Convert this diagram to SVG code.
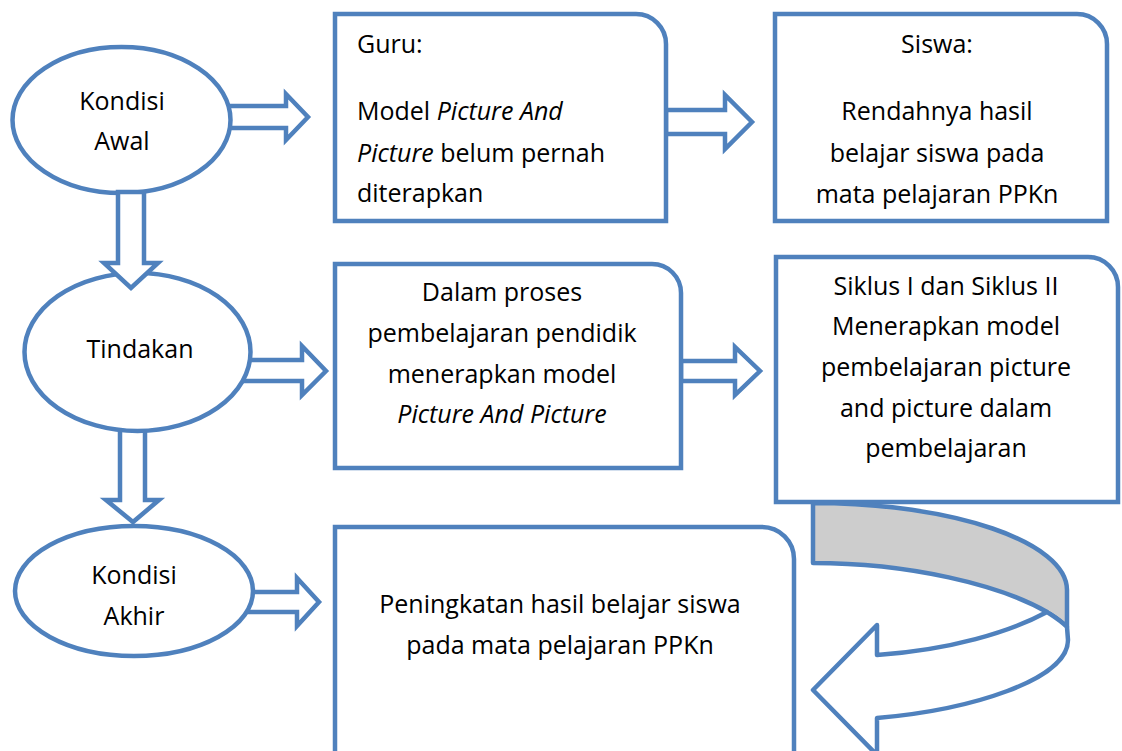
<svg xmlns="http://www.w3.org/2000/svg" width="1122" height="751" viewBox="0 0 1122 751">
<style>
.s{fill:#fff;stroke:#4F81BD;stroke-width:4.5;stroke-linejoin:miter}
.c{fill:#fff;stroke:#4F81BD;stroke-width:4.5;stroke-linejoin:round}
.t{font-family:"Open Sans","Liberation Sans",sans-serif;font-size:25px;fill:#000}
.m{text-anchor:middle}
.i{font-style:italic}
</style>
<rect width="1122" height="751" fill="#fff"/>
<g id="connectors">
<polygon class="s" points="215,106 286,106 286,94 308,117 286,140 286,128 215,128"/>
<polygon class="s" points="240,360 302,360 302,346 326,371 302,395 302,381 240,381"/>
<polygon class="s" points="120,425 120,500 106,500 133,522 159,500 145,500 145,425"/>
<polygon class="s" points="245,592 297,592 297,578 319,602 297,626 297,612 245,612"/>
<polygon class="s" points="666,110 725,110 725,95 752,122 725,149 725,134 666,134"/>
<polygon class="s" points="681,361 735,361 735,347 760,371 735,395 735,381 681,381"/>
</g>
<g id="n-awal">
<ellipse class="s" cx="121.5" cy="120" rx="109" ry="73"/>
<text class="t m" x="122" y="110">Kondisi</text>
<text class="t m" x="122" y="150">Awal</text>
</g>
<g id="n-tindakan">
<ellipse class="s" cx="137.5" cy="352" rx="113" ry="79"/>
<text class="t m" x="140" y="358">Tindakan</text>
</g>
<g id="n-akhir">
<ellipse class="s" cx="134" cy="591" rx="119" ry="65"/>
<text class="t m" x="134" y="584">Kondisi</text>
<text class="t m" x="134" y="625">Akhir</text>
</g>
<g id="connectors-top">
<polygon class="s" points="118,192 118,263 104,263 131,288 158,263 144,263 144,192"/>
</g>
<g id="n-guru">
<path class="s" d="M335,14 H636 A30,30 0 0 1 666,44 V221 H335 Z"/>
<text class="t" x="357" y="53">Guru:</text>
<text class="t" x="357" y="120">Model <tspan class="i">Picture And</tspan></text>
<text class="t" x="357" y="162"><tspan class="i">Picture</tspan> belum pernah</text>
<text class="t" x="357" y="202">diterapkan</text>
</g>
<g id="n-siswa">
<path class="s" d="M775,14 H1077 A30,30 0 0 1 1107,44 V221 H775 Z"/>
<text class="t m" x="937" y="53">Siswa:</text>
<text class="t m" x="937" y="120">Rendahnya hasil</text>
<text class="t m" x="937" y="162">belajar siswa pada</text>
<text class="t m" x="937" y="203">mata pelajaran PPKn</text>
</g>
<g id="n-proses">
<path class="s" d="M335,264 H652 A29,29 0 0 1 681,293 V468 H335 Z"/>
<text class="t m" x="502" y="301">Dalam proses</text>
<text class="t m" x="502" y="342">pembelajaran pendidik</text>
<text class="t m" x="502" y="383">menerapkan model</text>
<text class="t m i" x="502" y="423">Picture And Picture</text>
</g>
<g id="n-siklus">
<path class="s" d="M776,257 H1088 A30,30 0 0 1 1118,287 V502 H776 Z"/>
<text class="t m" x="946" y="295">Siklus I dan Siklus II</text>
<text class="t m" x="946" y="335">Menerapkan model</text>
<text class="t m" x="946" y="376">pembelajaran picture</text>
<text class="t m" x="946" y="417">and picture dalam</text>
<text class="t m" x="946" y="457">pembelajaran</text>
</g>
<g id="n-peningkatan">
<path class="s" d="M335,527 H762 A32,32 0 0 1 794,559 V760 H335 Z"/>
<text class="t m" x="560" y="613">Peningkatan hasil belajar siswa</text>
<text class="t m" x="560" y="654">pada mata pelajaran PPKn</text>
</g>
<g id="curved-arrow">
<path class="c" style="fill:#CDCDCD" d="M813,503 C953,503 1067,542 1067,590 L1067,627 C1060,620 1053,616 1047,612 C1000,585 910,563 813,563 Z"/>
<path class="c" d="M1047,612 C1010,632 950,650 877,655 L877,625 L813,690 L877,755 L877,718 C970,710 1068,680 1068,640 L1067,627 C1060,620 1053,616 1047,612 Z"/>
</g>
</svg>
